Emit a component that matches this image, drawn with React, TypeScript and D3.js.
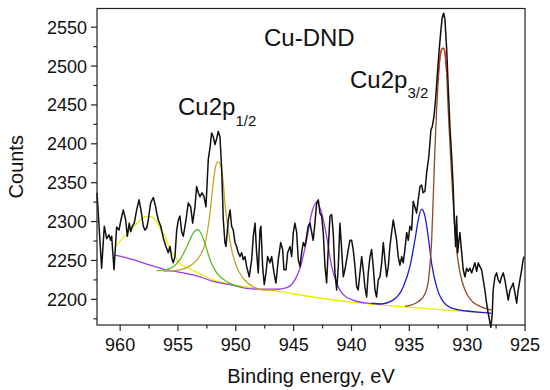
import React from "react";
import * as d3 from "d3";

// XPS Cu2p spectrum of Cu-DND: [binding energy eV, counts]
const spectrum: [number, number][] = [
  [962.0, 2337], [961.6, 2240], [961.37, 2294], [961.16, 2278], [960.96, 2283], [960.82, 2276], [960.73, 2281],
  [960.53, 2238], [960.3, 2293], [960.1, 2289], [959.93, 2302], [959.73, 2315], [959.52, 2302], [959.38, 2281],
  [959.21, 2298], [959.09, 2287], [958.95, 2294], [958.78, 2298], [958.57, 2315], [958.37, 2328], [958.2, 2315],
  [958.0, 2294], [957.85, 2289], [957.7, 2292], [957.57, 2302], [957.36, 2324], [957.13, 2331], [956.93, 2319],
  [956.84, 2311], [956.7, 2302], [956.49, 2294], [956.27, 2279], [956.04, 2268], [955.84, 2260], [955.69, 2268],
  [955.54, 2253], [955.41, 2247], [955.26, 2255], [955.11, 2289], [954.97, 2302], [954.83, 2307], [954.68, 2287],
  [954.54, 2281], [954.31, 2302], [954.11, 2324], [953.9, 2319], [953.73, 2298], [953.53, 2319], [953.39, 2345],
  [953.24, 2337], [953.1, 2332], [952.92, 2337], [952.75, 2332], [952.58, 2319], [952.38, 2380], [952.23, 2395],
  [952.09, 2414], [951.95, 2409], [951.8, 2399], [951.65, 2407], [951.52, 2416], [951.37, 2409], [951.22, 2367],
  [951.08, 2302], [950.94, 2273], [950.85, 2268], [950.65, 2302], [950.5, 2315], [950.36, 2294], [950.22, 2289],
  [950.07, 2273], [949.93, 2268], [949.79, 2260], [949.64, 2255], [949.49, 2260], [949.36, 2251], [949.21, 2255],
  [949.06, 2242], [948.84, 2229], [948.63, 2251], [948.49, 2281], [948.34, 2298], [948.2, 2260], [948.06, 2234],
  [947.91, 2289], [947.83, 2294], [947.68, 2242], [947.54, 2219], [947.39, 2234], [947.25, 2255], [947.05, 2247],
  [946.9, 2255], [946.7, 2234], [946.53, 2221], [946.33, 2251], [946.12, 2273], [945.95, 2264], [945.84, 2238],
  [945.66, 2238], [945.52, 2260], [945.32, 2268], [945.17, 2255], [945.03, 2286], [944.89, 2298], [944.74, 2286],
  [944.6, 2251], [944.45, 2242], [944.31, 2260], [944.17, 2273], [944.02, 2268], [943.88, 2281], [943.74, 2294],
  [943.59, 2298], [943.44, 2286], [943.31, 2276], [943.16, 2298], [943.01, 2324], [942.87, 2328], [942.73, 2311],
  [942.58, 2307], [942.44, 2286], [942.29, 2242], [942.15, 2221], [942.01, 2264], [941.86, 2307], [941.71, 2309],
  [941.58, 2286], [941.43, 2234], [941.28, 2212], [941.14, 2242], [941.0, 2298], [940.85, 2264], [940.71, 2229],
  [940.57, 2238], [940.42, 2251], [940.28, 2264], [940.13, 2276], [939.99, 2276], [939.85, 2264], [939.7, 2242],
  [939.55, 2216], [939.42, 2212], [939.27, 2234], [939.12, 2255], [938.98, 2238], [938.84, 2216], [938.69, 2203],
  [938.55, 2234], [938.4, 2255], [938.26, 2264], [938.12, 2242], [937.97, 2212], [937.83, 2203], [937.69, 2225],
  [937.54, 2229], [937.39, 2247], [937.25, 2273], [937.11, 2251], [936.96, 2229], [936.82, 2242], [936.68, 2268],
  [936.53, 2286], [936.39, 2302], [936.24, 2289], [936.1, 2276], [935.96, 2255], [935.81, 2244], [935.66, 2255],
  [935.53, 2247], [935.38, 2264], [935.23, 2286], [935.09, 2276], [934.95, 2294], [934.8, 2289], [934.66, 2326],
  [934.52, 2319], [934.37, 2311], [934.23, 2328], [934.08, 2345], [933.94, 2347], [933.8, 2337], [933.65, 2339],
  [933.5, 2363], [933.31, 2384], [933.13, 2418], [933.02, 2422], [932.87, 2435], [932.73, 2457], [932.59, 2487],
  [932.44, 2517], [932.29, 2543], [932.16, 2562], [932.03, 2568], [931.92, 2560], [931.77, 2521], [931.64, 2474],
  [931.49, 2422], [931.34, 2384], [931.21, 2345], [931.12, 2307], [931.0, 2268], [930.91, 2307], [930.82, 2260],
  [930.71, 2276], [930.63, 2286], [930.48, 2261], [930.34, 2238], [930.19, 2229], [930.05, 2240], [929.91, 2236],
  [929.76, 2240], [929.61, 2234], [929.48, 2240], [929.33, 2247], [929.18, 2236], [929.04, 2247], [928.9, 2242],
  [928.75, 2238], [928.61, 2225], [928.47, 2212], [928.32, 2195], [928.18, 2182], [928.03, 2170], [927.95, 2164],
  [927.83, 2182], [927.75, 2212], [927.6, 2229], [927.45, 2234], [927.32, 2225], [927.17, 2221], [927.02, 2229],
  [926.88, 2234], [926.74, 2225], [926.59, 2212], [926.45, 2199], [926.3, 2212], [926.16, 2216], [926.02, 2221],
  [925.87, 2208], [925.72, 2195], [925.59, 2212], [925.44, 2225], [925.29, 2238], [925.16, 2251], [925.07, 2255],
];

// fitted background (yellow) incl. broad satellite
const yellowFit: [number, number][] = [
  [960.38, 2268], [959.58, 2282], [958.72, 2295], [958.11, 2304], [957.57, 2307], [957.16, 2305], [956.84, 2300],
  [956.47, 2289], [956.12, 2281], [955.69, 2264], [955.26, 2255], [954.83, 2246], [954.11, 2240], [953.1, 2233],
  [951.97, 2225], [949.06, 2216], [946.18, 2210], [943.33, 2203], [940.42, 2197], [937.54, 2193], [933.5, 2188],
  [930.63, 2185], [928.03, 2183],
];

const purpleFit: [number, number][] = [
  [960.44, 2257], [958.86, 2251], [957.42, 2244], [955.98, 2238], [954.54, 2234], [953.1, 2229], [951.95, 2223],
  [950.51, 2219], [949.06, 2214], [947.63, 2213], [946.47, 2213], [945.6, 2215], [944.89, 2225], [944.45, 2240],
  [943.88, 2276], [943.44, 2311], [943.01, 2325], [942.58, 2311], [942.15, 2281], [941.71, 2242], [941.28, 2221],
  [940.71, 2206], [939.85, 2199], [938.69, 2195], [937.54, 2194],
];

const greenFit: [number, number][] = [
  [956.84, 2237], [956.12, 2238], [955.41, 2242], [954.83, 2251], [954.25, 2267], [953.68, 2285], [953.31, 2290],
  [953.01, 2285], [952.67, 2272], [952.23, 2251], [951.65, 2234], [950.79, 2223], [949.64, 2216],
];

const oliveFit: [number, number][] = [
  [956.27, 2236], [954.83, 2238], [953.68, 2246], [953.1, 2256], [952.67, 2271], [952.23, 2311], [951.95, 2350],
  [951.71, 2373], [951.52, 2377], [951.33, 2373], [951.11, 2354], [950.94, 2324], [950.65, 2289], [950.36, 2264],
  [949.93, 2242], [949.36, 2227], [948.49, 2216], [947.63, 2212], [946.53, 2212],
];

const blueFit: [number, number][] = [
  [938.26, 2195], [937.54, 2194], [936.42, 2199], [935.53, 2216], [934.95, 2242], [934.52, 2276], [934.23, 2302],
  [933.94, 2316], [933.65, 2307], [933.37, 2281], [933.07, 2246], [932.64, 2216], [932.07, 2197], [931.21, 2188],
  [930.05, 2185], [928.61, 2183], [927.89, 2182],
];

const brownFit: [number, number][] = [
  [935.38, 2191], [934.23, 2197], [933.65, 2207], [933.37, 2222], [933.22, 2243], [933.07, 2276], [932.93, 2332],
  [932.79, 2392], [932.64, 2444], [932.5, 2483], [932.35, 2511], [932.21, 2521], [932.07, 2523], [931.92, 2517],
  [931.77, 2491], [931.64, 2444], [931.49, 2401], [931.34, 2358], [931.12, 2302], [930.91, 2264], [930.63, 2235],
  [930.19, 2212], [929.61, 2198], [928.75, 2190], [927.89, 2186],
];

const redFit: [number, number][] = [
  [932.55, 2478], [932.35, 2511], [932.21, 2521], [932.07, 2523], [931.92, 2517], [931.74, 2485],
];

const xMajor = [960, 955, 950, 945, 940, 935, 930, 925];
const xMinor = [957.5, 952.5, 947.5, 942.5, 937.5, 932.5, 927.5];
const yMajor = [2200, 2250, 2300, 2350, 2400, 2450, 2500, 2550];
const yMinor = [2175, 2225, 2275, 2325, 2375, 2425, 2475, 2525];

const W = 550;
const H = 390;
const left = 97, right = 525, top = 8.5, bottom = 325;
const font = "Arial, 'Liberation Sans', sans-serif";

export default function App() {
  const x = d3.scaleLinear().domain([962, 925]).range([left, right]);
  const y = d3.scaleLinear().domain([2167, 2574]).range([bottom, top]);

  const raw = d3.line<[number, number]>().x(d => x(d[0])).y(d => y(d[1]));
  const smooth = d3
    .line<[number, number]>()
    .x(d => x(d[0]))
    .y(d => y(d[1]))
    .curve(d3.curveMonotoneX);

  const fits: { data: [number, number][]; color: string }[] = [
    { data: yellowFit, color: "#ecec00" },
    { data: purpleFit, color: "#9a3cf0" },
    { data: oliveFit, color: "#c4a528" },
    { data: greenFit, color: "#5cb82a" },
    { data: blueFit, color: "#1a1ae0" },
    { data: brownFit, color: "#8e4a1c" },
    { data: redFit, color: "#e02a1a" },
  ];

  return (
    <svg width={W} height={H} style={{ position: "absolute", left: 0, top: 0, background: "#fff" }}>
      {fits.map((f, i) => (
        <path key={i} d={smooth(f.data) || ""} fill="none" stroke={f.color} strokeWidth={1.3} />
      ))}
      <path d={raw(spectrum) || ""} fill="none" stroke="#111" strokeWidth={1.5} strokeLinejoin="round" />

      <rect x={left} y={top} width={right - left} height={bottom - top} fill="none" stroke="#222" strokeWidth={1.2} />

      {xMajor.map(v => (
        <g key={"xM" + v}>
          <line x1={x(v)} x2={x(v)} y1={bottom} y2={bottom + 6} stroke="#222" strokeWidth={1.2} />
          <text x={x(v)} y={351} textAnchor="middle" fontFamily={font} fontSize={18} fill="#111">{v}</text>
        </g>
      ))}
      {xMinor.map(v => (
        <line key={"xm" + v} x1={x(v)} x2={x(v)} y1={bottom} y2={bottom + 3.5} stroke="#222" strokeWidth={1.2} />
      ))}
      {yMajor.map(v => (
        <g key={"yM" + v}>
          <line x1={left - 6} x2={left} y1={y(v)} y2={y(v)} stroke="#222" strokeWidth={1.2} />
          <text x={87} y={y(v) + 6.5} textAnchor="end" fontFamily={font} fontSize={18} fill="#111">{v}</text>
        </g>
      ))}
      {yMinor.map(v => (
        <line key={"ym" + v} x1={left - 3.5} x2={left} y1={y(v)} y2={y(v)} stroke="#222" strokeWidth={1.2} />
      ))}

      <text x={(left + right) / 2} y={383} textAnchor="middle" fontFamily={font} fontSize={20} fill="#111">
        Binding energy, eV
      </text>
      <text transform={`translate(23,${(top + bottom) / 2}) rotate(-90)`} textAnchor="middle" fontFamily={font} fontSize={20} fill="#111">
        Counts
      </text>

      <text x={264} y={46} fontFamily={font} fontSize={24} fill="#111">Cu-DND</text>
      <text x={178} y={115} fontFamily={font} fontSize={24} fill="#111">
        Cu2p<tspan dy={11} fontSize={15}>1/2</tspan>
      </text>
      <text x={350} y={88} fontFamily={font} fontSize={24} fill="#111">
        Cu2p<tspan dy={10} fontSize={15}>3/2</tspan>
      </text>
    </svg>
  );
}
